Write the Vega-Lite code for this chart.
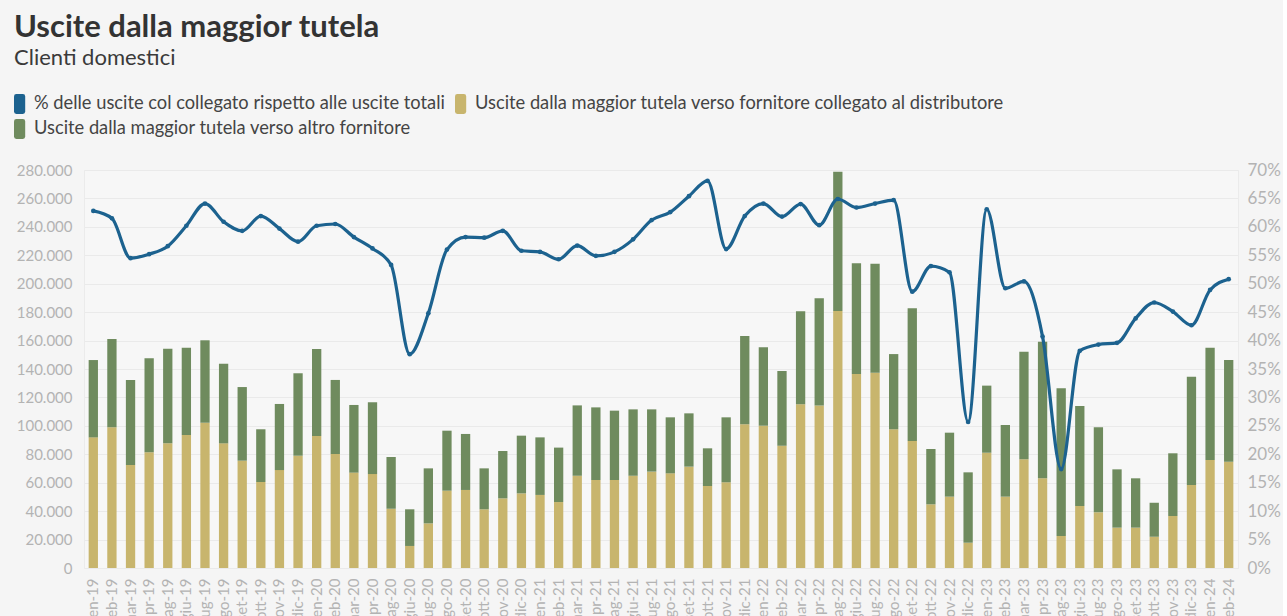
{
  "$schema": "https://vega.github.io/schema/vega-lite/v6.json",
  "width": 1154,
  "height": 398,
  "padding": {"left": 14, "top": 12, "right": 2, "bottom": 0},
  "background": "#f5f5f5",
  "config": {
    "locale": {"number": {"decimal": ",", "thousands": ".", "grouping": [3], "currency": ["€", ""]}},
    "font": "Lato",
    "view": {"stroke": "#ebebeb", "fill": "#f7f7f7"}
  },
  "title": {
    "text": "Uscite dalla maggior tutela",
    "subtitle": "Clienti domestici",
    "anchor": "start",
    "frame": "bounds",
    "fontSize": 31,
    "fontWeight": "bold",
    "color": "#333333",
    "subtitleFontSize": 22,
    "subtitleColor": "#3a3a3a",
    "subtitlePadding": 4,
    "offset": 24
  },
  "data": {
    "values": [
      {"mese": "gen-19", "collegato": 91900, "altro": 54400, "pct": 62.8},
      {"mese": "feb-19", "collegato": 99000, "altro": 62100, "pct": 61.5},
      {"mese": "mar-19", "collegato": 72500, "altro": 59800, "pct": 54.5},
      {"mese": "apr-19", "collegato": 81400, "altro": 66100, "pct": 55.2},
      {"mese": "mag-19", "collegato": 87700, "altro": 66600, "pct": 56.6},
      {"mese": "giu-19", "collegato": 93600, "altro": 61400, "pct": 60.2},
      {"mese": "lug-19", "collegato": 102200, "altro": 58000, "pct": 64.1},
      {"mese": "ago-19", "collegato": 87700, "altro": 56000, "pct": 60.9},
      {"mese": "set-19", "collegato": 75500, "altro": 51800, "pct": 59.3},
      {"mese": "ott-19", "collegato": 60500, "altro": 37100, "pct": 61.9},
      {"mese": "nov-19", "collegato": 68900, "altro": 46500, "pct": 59.7},
      {"mese": "dic-19", "collegato": 79000, "altro": 58000, "pct": 57.4},
      {"mese": "gen-20", "collegato": 92900, "altro": 61200, "pct": 60.2},
      {"mese": "feb-20", "collegato": 80200, "altro": 52100, "pct": 60.5},
      {"mese": "mar-20", "collegato": 67100, "altro": 47600, "pct": 58.2},
      {"mese": "apr-20", "collegato": 66100, "altro": 50500, "pct": 56.2},
      {"mese": "mag-20", "collegato": 41700, "altro": 36400, "pct": 53.3},
      {"mese": "giu-20", "collegato": 15500, "altro": 25800, "pct": 37.6},
      {"mese": "lug-20", "collegato": 31400, "altro": 38700, "pct": 44.8},
      {"mese": "ago-20", "collegato": 54400, "altro": 42200, "pct": 56.0},
      {"mese": "set-20", "collegato": 54900, "altro": 39400, "pct": 58.2},
      {"mese": "ott-20", "collegato": 41300, "altro": 28800, "pct": 58.1},
      {"mese": "nov-20", "collegato": 49000, "altro": 33300, "pct": 59.3},
      {"mese": "dic-20", "collegato": 52500, "altro": 40600, "pct": 55.8},
      {"mese": "gen-21", "collegato": 51400, "altro": 40500, "pct": 55.6},
      {"mese": "feb-21", "collegato": 46400, "altro": 38300, "pct": 54.3},
      {"mese": "mar-21", "collegato": 64900, "altro": 49500, "pct": 56.7},
      {"mese": "apr-21", "collegato": 61900, "altro": 51100, "pct": 54.9},
      {"mese": "mag-21", "collegato": 61900, "altro": 48800, "pct": 55.6},
      {"mese": "giu-21", "collegato": 64900, "altro": 46700, "pct": 57.8},
      {"mese": "lug-21", "collegato": 67800, "altro": 43800, "pct": 61.2},
      {"mese": "ago-21", "collegato": 66600, "altro": 39400, "pct": 62.6},
      {"mese": "set-21", "collegato": 71300, "altro": 37500, "pct": 65.4},
      {"mese": "ott-21", "collegato": 57700, "altro": 26500, "pct": 68.1},
      {"mese": "nov-21", "collegato": 60300, "altro": 45700, "pct": 56.1},
      {"mese": "dic-21", "collegato": 101100, "altro": 62100, "pct": 61.9},
      {"mese": "gen-22", "collegato": 100100, "altro": 55200, "pct": 64.1},
      {"mese": "feb-22", "collegato": 86000, "altro": 52600, "pct": 61.8},
      {"mese": "mar-22", "collegato": 115200, "altro": 65400, "pct": 64.0},
      {"mese": "apr-22", "collegato": 114400, "altro": 75300, "pct": 60.3},
      {"mese": "mag-22", "collegato": 180800, "altro": 98000, "pct": 64.9},
      {"mese": "giu-22", "collegato": 136500, "altro": 77900, "pct": 63.4},
      {"mese": "lug-22", "collegato": 137400, "altro": 76700, "pct": 64.1},
      {"mese": "ago-22", "collegato": 97600, "altro": 52900, "pct": 64.7},
      {"mese": "set-22", "collegato": 89300, "altro": 93400, "pct": 48.6},
      {"mese": "ott-22", "collegato": 44800, "altro": 38900, "pct": 53.1},
      {"mese": "nov-22", "collegato": 50200, "altro": 45000, "pct": 52.0},
      {"mese": "dic-22", "collegato": 17800, "altro": 49500, "pct": 25.7},
      {"mese": "gen-23", "collegato": 81100, "altro": 47200, "pct": 63.1},
      {"mese": "feb-23", "collegato": 50200, "altro": 50400, "pct": 49.2},
      {"mese": "mar-23", "collegato": 76500, "altro": 75700, "pct": 50.4},
      {"mese": "apr-23", "collegato": 63100, "altro": 96100, "pct": 40.7},
      {"mese": "mag-23", "collegato": 22500, "altro": 103900, "pct": 17.4},
      {"mese": "giu-23", "collegato": 43600, "altro": 70400, "pct": 38.2},
      {"mese": "lug-23", "collegato": 39200, "altro": 59800, "pct": 39.3},
      {"mese": "ago-23", "collegato": 28400, "altro": 41000, "pct": 39.6},
      {"mese": "set-23", "collegato": 28400, "altro": 34700, "pct": 43.9},
      {"mese": "ott-23", "collegato": 22000, "altro": 23900, "pct": 46.7},
      {"mese": "nov-23", "collegato": 36600, "altro": 44100, "pct": 45.1},
      {"mese": "dic-23", "collegato": 58400, "altro": 76200, "pct": 42.7},
      {"mese": "gen-24", "collegato": 76000, "altro": 79000, "pct": 48.9},
      {"mese": "feb-24", "collegato": 74800, "altro": 71500, "pct": 50.8}
    ]
  },
  "encoding": {
    "x": {
      "field": "mese",
      "type": "ordinal",
      "sort": null,
      "scale": {"paddingInner": 0.5, "paddingOuter": 0.25},
      "axis": {
        "title": null,
        "labelAngle": -90,
        "labelFontSize": 15,
        "labelColor": "#b3b3b3",
        "labelPadding": 10,
        "ticks": false,
        "domain": false
      }
    }
  },
  "layer": [
    {
      "transform": [{"fold": ["collegato", "altro"], "as": ["serie", "valore"]}],
      "mark": {"type": "bar"},
      "encoding": {
        "y": {
          "field": "valore",
          "type": "quantitative",
          "stack": "zero",
          "scale": {"domain": [0, 280000], "nice": false},
          "axis": {
            "title": null,
            "values": [0, 20000, 40000, 60000, 80000, 100000, 120000, 140000, 160000, 180000, 200000, 220000, 240000, 260000, 280000],
            "format": ",d",
            "labelFontSize": 15,
            "labelColor": "#b3b3b3",
            "labelPadding": 12,
            "ticks": false,
            "domain": false,
            "grid": true,
            "gridColor": "#eaeaea"
          }
        },
        "color": {
          "field": "serie",
          "type": "nominal",
          "scale": {
            "domain": ["pct", "collegato", "altro"],
            "range": ["#1c628f", "#c8b56d", "#6f8b5e"]
          },
          "legend": {
            "title": null,
            "orient": "none",
            "legendX": -70,
            "legendY": -76,
            "direction": "horizontal",
            "columns": 2,
            "columnPadding": 10,
            "rowPadding": 5,
            "symbolType": "M-1,-0.76 Q-1,-1 -0.76,-1 L-0.12,-1 Q0.12,-1 0.12,-0.76 L0.12,0.76 Q0.12,1 -0.12,1 L-0.76,1 Q-1,1 -1,0.76 Z",
            "symbolSize": 400,
            "symbolStrokeWidth": 0,
            "symbolOpacity": 1,
            "labelFontSize": 18.3,
            "labelColor": "#444444",
            "labelOffset": 0,
            "labelLimit": 800,
            "labelExpr": "datum.label == 'pct' ? '% delle uscite col collegato rispetto alle uscite totali' : datum.label == 'collegato' ? 'Uscite dalla maggior tutela verso fornitore collegato al distributore' : 'Uscite dalla maggior tutela verso altro fornitore'"
          }
        },
        "order": {"field": "serie", "sort": "descending"}
      }
    },
    {
      "mark": {
        "type": "line",
        "interpolate": "monotone",
        "strokeWidth": 3.2
      },
      "encoding": {
        "y": {
          "field": "pct",
          "type": "quantitative",
          "scale": {"domain": [0, 70], "nice": false},
          "axis": {
            "title": null,
            "orient": "right",
            "values": [0, 5, 10, 15, 20, 25, 30, 35, 40, 45, 50, 55, 60, 65, 70],
            "labelExpr": "datum.value + '%'",
            "labelFontSize": 17,
            "labelColor": "#b3b3b3",
            "labelPadding": 9,
            "ticks": false,
            "domain": false,
            "grid": false
          }
        },
        "color": {"datum": "pct"}
      }
    },
    {
      "mark": {"type": "point", "filled": true, "size": 22, "opacity": 1, "color": "#1c628f"},
      "encoding": {
        "y": {"field": "pct", "type": "quantitative", "scale": {"domain": [0, 70], "nice": false}, "axis": null}
      }
    }
  ],
  "resolve": {"scale": {"y": "independent"}}
}
